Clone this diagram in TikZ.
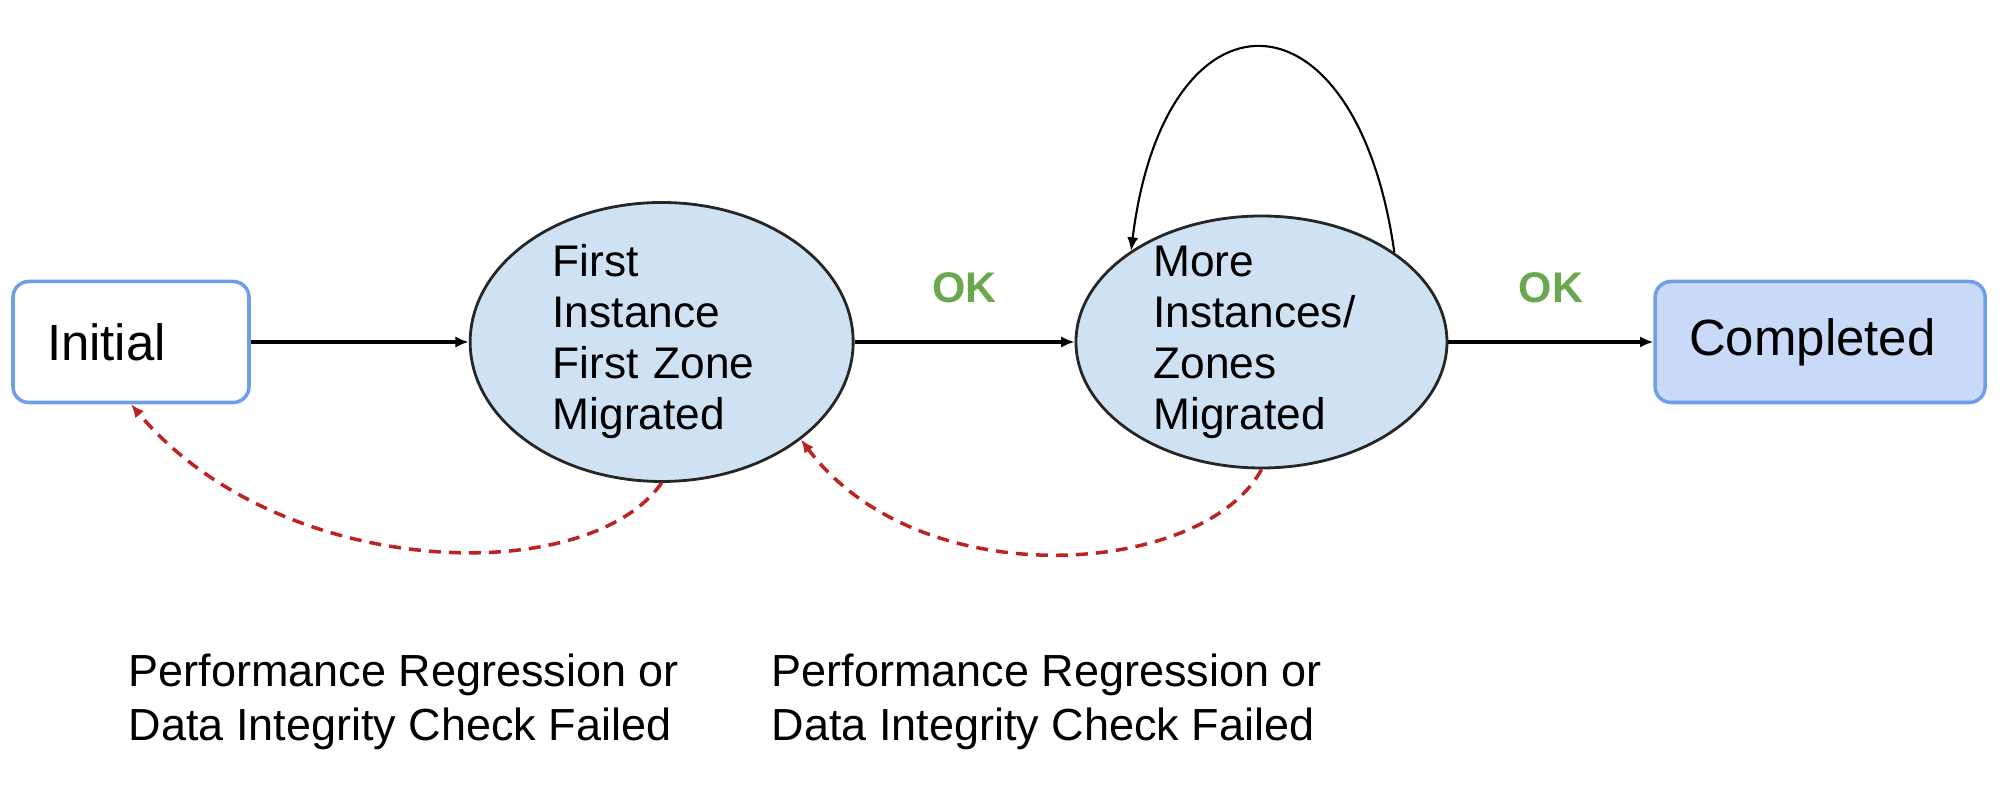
\documentclass[tikz,border=0pt]{standalone}
\usepackage{fontspec}
\setmainfont{Liberation Sans}
\usetikzlibrary{positioning,shapes.geometric,arrows.meta}
\definecolor{edgeblue}{HTML}{6D9EEB}
\definecolor{donefill}{HTML}{C9DAF8}
\definecolor{zonefill}{HTML}{CFE2F3}
\definecolor{okgreen}{HTML}{6AA84F}
\definecolor{failred}{RGB}{190,35,35}

\begin{document}
\begin{tikzpicture}
  \tikzstyle{state}=[rectangle, draw=edgeblue, line width=1pt, rounded corners=4.5pt, minimum height=1.21cm, inner xsep=0.34cm, align=left, font=\fontsize{14.5}{17}\selectfont]
  \tikzstyle{zone}=[ellipse, draw=black!85, fill=zonefill, line width=0.8pt, inner sep=0pt, align=left, font=\fontsize{12.6}{14.5}\selectfont]
  \tikzstyle{go}=[-{Latex[length=3.8pt,width=3.2pt]}, line width=0.9pt]
  \tikzstyle{back}=[go, draw=failred, line width=1pt, dash pattern=on 3.4pt off 2.3pt]
  \tikzstyle{ok}=[text=okgreen, font=\bfseries\fontsize{12.2}{14}\selectfont]
  \tikzstyle{note}=[anchor=north west, inner sep=0pt, align=left, font=\fontsize{12.8}{15.3}\selectfont]
  \useasboundingbox (0,0) rectangle (20,7.91);
  % states
  \draw (1.31,4.49) node (init) [state, text width=1.68cm] {Initial}
    node (first) [zone, minimum width=3.83cm, minimum height=2.79cm, text width=2.18cm, right=2.18cm of init] {First\\Instance\\First Zone\\Migrated}
    node (more) [zone, minimum width=3.71cm, minimum height=2.52cm, text width=2.16cm, inner ysep=-3pt, right=2.2cm of first] {More\\Instances/\\Zones\\Migrated}
    node (done) [state, fill=donefill, text width=2.62cm, right=2.05cm of more] {Completed};
  % transitions
  \draw [go] (init) -- (first);
  \draw [go] (first) -- node [ok, above=0.26cm] {OK} (more);
  \draw [go] (more) -- node [ok, above=0.26cm] {OK} (done);
  \draw [go, line width=0.6pt] (more.34) .. controls +(98:2.75) and +(83:2.74) .. (more.145);
  % fallbacks
  \draw [back] (first.south) .. controls +(-125:1.3) and +(-50:2.3) .. (init.south);
  \draw [back] (more.south) .. controls +(-118:1.2) and +(-53:2.0) .. (first.-35);
  \node (fail1) [note] at (1.28,1.38) {Performance Regression or\\Data Integrity Check Failed};
  \node (fail2) [note] at (7.71,1.38) {Performance Regression or\\Data Integrity Check Failed};
\end{tikzpicture}
\end{document}
